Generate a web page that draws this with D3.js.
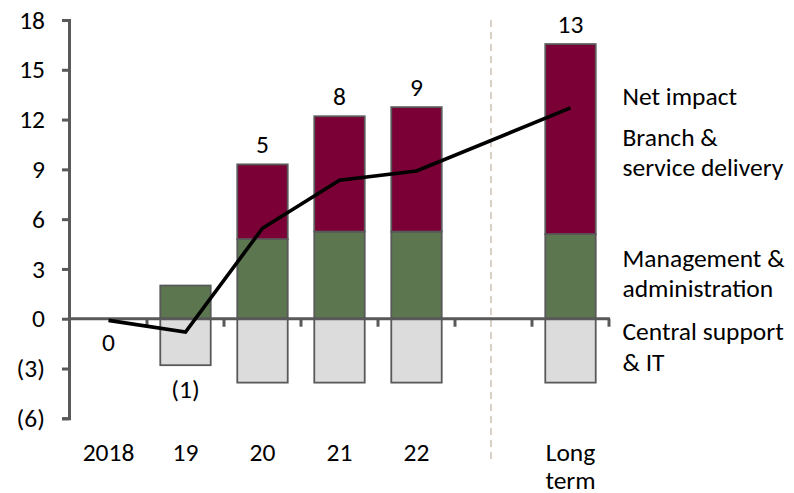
<!DOCTYPE html>
<html>
<head>
<meta charset="utf-8">
<script src="https://cdn.jsdelivr.net/npm/d3@7"></script>
<style>
  html, body { margin: 0; padding: 0; background: #fff; }
  svg { display: block; }
  text { font-family: Carlito, Calibri, Lato, "Open Sans", sans-serif; fill: #000; }
</style>
</head>
<body>
<svg id="chart" width="794" height="493"></svg>
<script>
// Cost impact by year, split by function (stacked), with the net impact line
const categories = ["2018", "19", "20", "21", "22", "", "Long term"];
const mgmtAdmin   = [0, 2.0, 4.8, 5.25, 5.25, null, 5.1];
const branchSvc   = [0, 0, 4.5, 6.95, 7.5, null, 11.45];
const centralIT   = [0, -2.8, -3.85, -3.85, -3.85, null, -3.85];
const netImpact   = [-0.1, -0.8, 5.45, 8.35, 8.9, null, 12.7];
const yTicks      = [-6, -3, 0, 3, 6, 9, 12, 15, 18];

const legendItems = [
  { lines: ["Net impact"], y: 105 },
  { lines: ["Branch &", "service delivery"], y: 145.7 },
  { lines: ["Management &", "administration"], y: 266.5 },
  { lines: ["Central support", "& IT"], y: 340 }
];

const colors = { branch: "#7a0035", mgmt: "#5c764f", central: "#dcdcdc", stroke: "#595959", axis: "#595959" };
const fontSize = 25.5;
const lineGap = 30.5;

const svg = d3.select("#chart");

const x = d3.scaleBand().domain(d3.range(categories.length)).range([70, 609]).padding(0);
const y = d3.scaleLinear().domain([-6, 18]).range([418.3, 20]);
const barW = x.bandwidth() * 0.655;
const cx = i => x(i) + x.bandwidth() / 2;

const fmt = v => {
  const r = Math.round(v);
  return r < 0 ? `(${-r})` : `${Math.abs(r)}`;
};

// Separator between the forecast years and the long-term column
const emptyIdx = categories.indexOf("");
svg.append("line")
  .attr("x1", cx(emptyIdx) - 2.5).attr("x2", cx(emptyIdx) - 2.5)
  .attr("y1", y(18)).attr("y2", 462)
  .attr("stroke", "#d8cfc6").attr("stroke-width", 2)
  .attr("stroke-dasharray", "7,5");

// Stacked bars
const rows = categories.map((c, i) => ({ i, g: mgmtAdmin[i], b: branchSvc[i], c: centralIT[i] }))
  .filter(d => d.g !== null);

const bars = svg.append("g");
function seg(sel, y0, y1, fill) {
  sel.append("rect")
    .attr("x", d => cx(d.i) - barW / 2)
    .attr("width", barW)
    .attr("y", d => Math.min(y(y0(d)), y(y1(d))))
    .attr("height", d => Math.abs(y(y0(d)) - y(y1(d))))
    .attr("fill", fill)
    .attr("stroke", colors.stroke)
    .attr("stroke-width", 1.8);
}
const gRows = bars.selectAll("g").data(rows).join("g");
seg(gRows, d => 0, d => d.c, colors.central);
seg(gRows, d => 0, d => d.g, colors.mgmt);
gRows.filter(d => d.b > 0).call(s => seg(s, d => d.g, d => d.g + d.b, colors.branch));

// Y axis
const yAxis = svg.append("g")
  .attr("transform", `translate(${x.range()[0] - 1},0)`)
  .call(d3.axisLeft(y).tickValues(yTicks).tickSize(7).tickPadding(17).tickFormat(fmt));
yAxis.select(".domain").attr("stroke", colors.axis).attr("stroke-width", 3);
yAxis.selectAll(".tick line").attr("stroke", colors.axis).attr("stroke-width", 3);
yAxis.selectAll("text").attr("font-size", fontSize).attr("font-family", null).attr("fill", "#000");

// Zero line with category separators
const x0 = x.range()[0] - 1, x1 = x.range()[1] + 1;
const zero = svg.append("g");
zero.append("line").attr("x1", x0).attr("x2", x1).attr("y1", y(0)).attr("y2", y(0))
  .attr("stroke", colors.axis).attr("stroke-width", 3);
zero.selectAll(".sep").data(d3.range(categories.length)).join("line")
  .attr("x1", i => x(i) + x.bandwidth()).attr("x2", i => x(i) + x.bandwidth())
  .attr("y1", y(0)).attr("y2", y(0) + 8)
  .attr("stroke", colors.axis).attr("stroke-width", 3);

// Net impact line
const netPts = netImpact.map((v, i) => ({ i, v })).filter(d => d.v !== null);
svg.append("path")
  .datum(netPts)
  .attr("fill", "none").attr("stroke", "#000").attr("stroke-width", 3.6)
  .attr("stroke-linejoin", "miter")
  .attr("d", d3.line().x(d => cx(d.i)).y(d => y(d.v)));

// Net value labels: above the stack when positive, below it when negative
svg.append("g").selectAll("text").data(netPts).join("text")
  .attr("x", d => cx(d.i))
  .attr("y", d => {
    const r = rows.find(r => r.i === d.i);
    return Math.round(d.v) > 0 ? y(r.g + r.b) - 11.5 : y(r.c) + 32.5;
  })
  .attr("text-anchor", "middle").attr("font-size", fontSize)
  .text(d => fmt(d.v));

// Category labels
svg.append("g").selectAll("text").data(categories.map((c, i) => ({ c, i })).filter(d => d.c))
  .join("text")
  .attr("x", d => cx(d.i))
  .attr("y", y(-6) + 43)
  .attr("text-anchor", "middle").attr("font-size", fontSize)
  .each(function(d) {
    const parts = d.c === "Long term" ? ["Long", "term"] : [d.c];
    d3.select(this).selectAll("tspan").data(parts).join("tspan")
      .attr("x", cx(d.i)).attr("dy", (p, k) => k === 0 ? 0 : 27.5).text(p => p);
  });

// Series labels at the right
const leg = svg.append("g");
legendItems.forEach(item => {
  const t = leg.append("text").attr("x", 622.5).attr("y", item.y).attr("font-size", fontSize);
  item.lines.forEach((l, k) => t.append("tspan").attr("x", 622.5).attr("dy", k === 0 ? 0 : lineGap).text(l));
});
</script>
</body>
</html>
